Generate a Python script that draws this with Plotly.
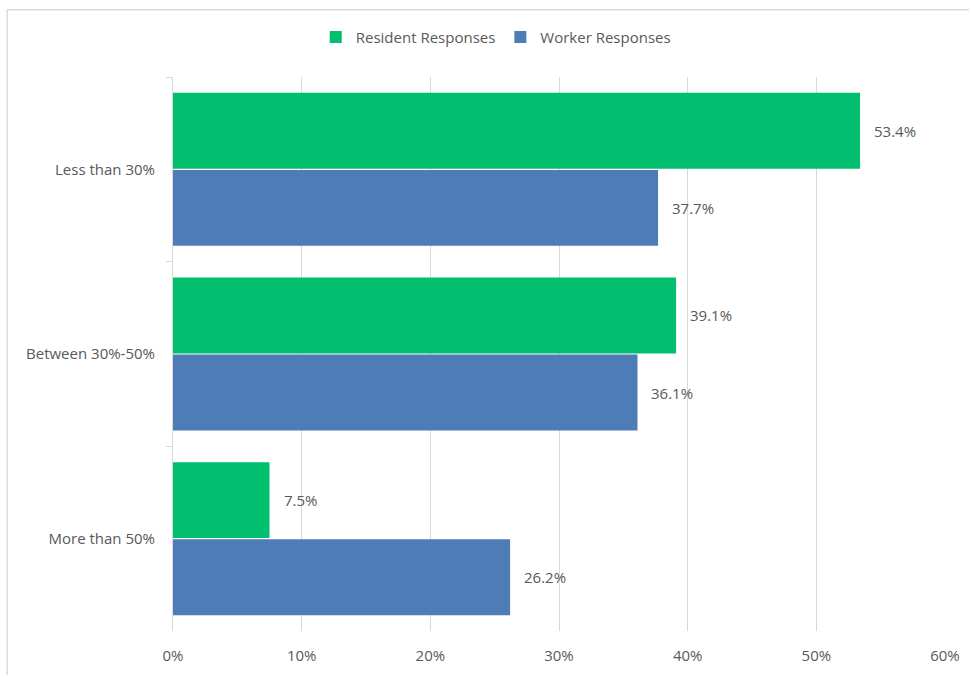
import plotly.graph_objects as go

categories = ["Less than 30%", "Between 30%-50%", "More than 50%"]
resident = [53.4, 39.1, 7.5]
worker = [37.7, 36.1, 26.2]
x_ticks = [0, 10, 20, 30, 40, 50, 60]
x_tick_labels = ["0%", "10%", "20%", "30%", "40%", "50%", "60%"]

GREEN = "#01BF6F"
BLUE = "#4E7CB6"
TEXT = "#595959"
GRID = "#D9D9D9"
FONT = "Open Sans"
FS = 15

W, H = 972, 677
L, R, T, B = 173, 24, 77, 44
pw, ph = W - L - R, H - T - B


def px_x(p):
    return (p - L) / pw


def px_y(p):
    return (H - B - p) / ph


fig = go.Figure()
fig.add_trace(go.Bar(
    y=categories, x=resident, orientation="h", name="Resident Responses",
    marker=dict(color=GREEN, line=dict(width=0)),
))
fig.add_trace(go.Bar(
    y=categories, x=worker, orientation="h", name="Worker Responses",
    marker=dict(color=BLUE, line=dict(width=0)),
))

# value labels to the right of each bar
annotations = []
for series, offset in ((resident, -0.21), (worker, 0.21)):
    for i, v in enumerate(series):
        annotations.append(dict(
            x=v, y=i + offset, xref="x", yref="y",
            text=f"{v:.1f}%", showarrow=False,
            xanchor="left", yanchor="middle", xshift=12,
            font=dict(family=FONT, size=FS, color=TEXT),
        ))

# chart frame (top and left edges)
shapes = [
    dict(type="line", xref="paper", yref="paper",
         x0=px_x(6.5), x1=px_x(972), y0=px_y(9.5), y1=px_y(9.5),
         line=dict(color=GRID, width=1.5)),
    dict(type="line", xref="paper", yref="paper",
         x0=px_x(6.5), x1=px_x(6.5), y0=px_y(9.5), y1=px_y(677),
         line=dict(color=GRID, width=1.5)),
]

fig.update_layout(
    width=W, height=H,
    margin=dict(l=L, r=R, t=T, b=B, pad=0),
    paper_bgcolor="white", plot_bgcolor="white",
    barmode="group", bargap=0.165, bargroupgap=0.015,
    font=dict(family=FONT, size=FS, color=TEXT),
    legend=dict(
        orientation="h", x=px_x(497), xanchor="center", y=px_y(37), yanchor="middle",
        font=dict(family=FONT, size=FS, color=TEXT),
        itemwidth=30, traceorder="normal",
    ),
    xaxis=dict(
        range=[0, 60], tickvals=x_ticks, ticktext=x_tick_labels,
        showgrid=True, gridcolor=GRID, gridwidth=1,
        showline=False, zeroline=False, ticks="", ticklen=0,
        tickfont=dict(family=FONT, size=FS, color=TEXT),
        ticklabelstandoff=14,
        fixedrange=True,
    ),
    yaxis=dict(
        type="category", autorange="reversed",
        showline=True, linecolor=GRID, linewidth=1,
        ticks="outside", tickson="boundaries", ticklen=6, tickcolor=GRID,
        showgrid=False,
        tickfont=dict(family=FONT, size=FS, color=TEXT),
        ticklabelstandoff=14,
    ),
    annotations=annotations,
    shapes=shapes,
)

fig.write_html("out.html")
